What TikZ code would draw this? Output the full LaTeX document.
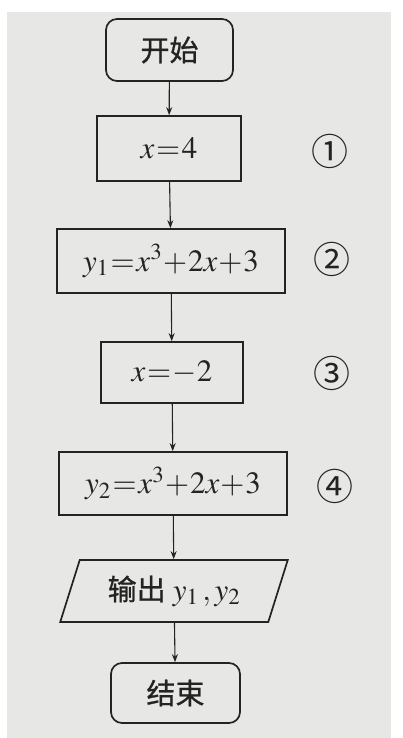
\documentclass[tikz,border=0pt]{standalone}
\usepackage{amsmath}
\usepackage{mathptmx}
\usepackage{fontspec}
\newfontfamily\cjk[FakeBold=0.8]{Noto Sans CJK SC}
\newfontfamily\cjknum{Noto Sans CJK SC}
\usetikzlibrary{arrows.meta,shapes.geometric}
\definecolor{fcpaper}{RGB}{231,231,229}
\definecolor{fcink}{RGB}{35,35,35}
\everymath{\thickmuskip=1mu\relax\medmuskip=0.5mu\relax}
\newcommand\fcsize{\fontsize{31}{36}\selectfont}
\newcommand\fccjk{\cjk\fontsize{29}{32}\selectfont}

\begin{document}
\begin{tikzpicture}[x=1pt, y=-1pt,
  txt/.style={font=\fcsize, text=fcink},
  stepbox/.style={txt, draw=fcink, line width=1.7pt, rectangle, inner sep=0pt},
  termbox/.style={stepbox, rounded corners=11pt},
  iobox/.style={txt, draw=fcink, line width=1.7pt, trapezium, trapezium left angle=66,
    trapezium right angle=114, trapezium stretches=true, inner sep=0pt},
  flow/.style={-{Stealth[length=8pt, width=6pt]}, fcink, line width=1.1pt},
  numlabel/.style={font=\cjknum\fontsize{37}{38}\selectfont, text=fcink}]
% Paper
\useasboundingbox (0,0) rectangle (403,738);
\fill[white] (0,0) rectangle (403,738);
\fill[fcpaper] (7,12) rectangle (391,738);
% Steps
\node[termbox, minimum width=127, minimum height=62] (start) at (169.5,50) {\fccjk 开始};
\node[stepbox, minimum width=144, minimum height=65] (s1) at (169,148.5) {$x=4$};
\node[stepbox, minimum width=228, minimum height=64] (s2) at (171,261) {$y_1=x^3+2x+3$};
\node[stepbox, minimum width=142, minimum height=61] (s3) at (172,372.5) {$x=-2$};
\node[stepbox, minimum width=228, minimum height=63] (s4) at (173,483.5) {$y_2=x^3+2x+3$};
\node[iobox, minimum width=228, minimum height=62] (out) at (174,591) {{\fccjk 输出}\hspace{7pt}$y_1$\hspace{4pt}$,y_2$};
\node[termbox, minimum width=129, minimum height=60] (stop) at (175.5,693) {\fccjk 结束};
% Arrows
\draw[flow] (start) -- (s1);
\draw[flow] (s1) -- (s2);
\draw[flow] (s2) -- (s3);
\draw[flow] (s3) -- (s4);
\draw[flow] (s4) -- (out);
\draw[flow] (out) -- (stop);
% Labels
\node[numlabel] (l1) at (330,151) {①};
\node[numlabel] (l2) at (332,259) {②};
\node[numlabel] (l3) at (332,373) {③};
\node[numlabel] (l4) at (335,486) {④};
\end{tikzpicture}
\end{document}
